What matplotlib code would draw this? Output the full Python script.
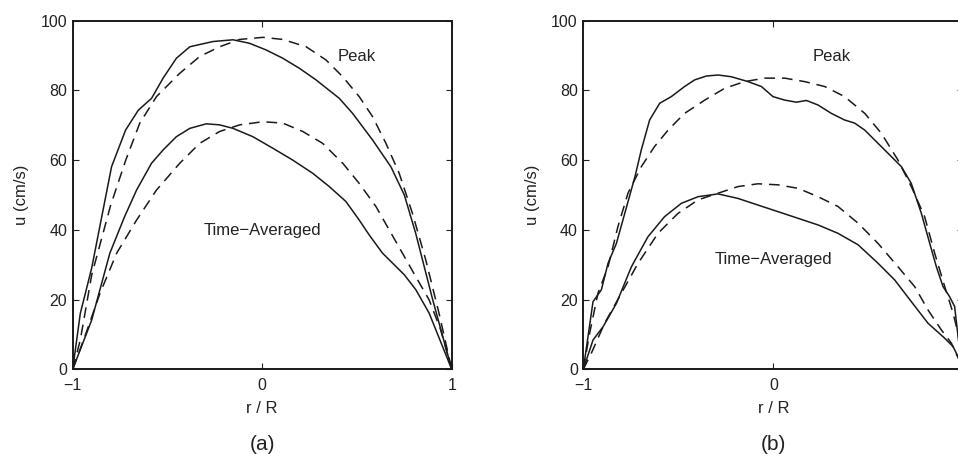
import numpy as np
import matplotlib.pyplot as plt

plt.rcParams['font.family'] = ['Liberation Sans', 'DejaVu Sans']

# panel (a)
a_peak_x = [-1, -0.96, -0.90, -0.795, -0.721, -0.654, -0.584, -0.523, -0.453, -0.382, -0.26, -0.154,
            -0.067, 0.02, 0.109, 0.197, 0.284, 0.407, 0.477, 0.582, 0.679, 0.75, 0.81, 0.90, 1]
a_peak_u = [0, 16, 29, 58.1, 68.6, 74.3, 77.7, 83.5, 89.2, 92.5, 94.0, 94.5,
            93.5, 91.6, 89.2, 86.3, 83.0, 77.7, 73.4, 65.8, 58.1, 50.0, 39.0, 19.9, 0]
a_peakfit_x = [-1, -0.96, -0.90, -0.80, -0.72, -0.646, -0.558, -0.435, -0.33, -0.225, -0.119, 0.004,
               0.109, 0.232, 0.337, 0.425, 0.512, 0.582, 0.653, 0.723, 0.793, 0.863, 0.933, 1]
a_peakfit_u = [0, 8.4, 27, 47, 60, 70.6, 78.2, 84.9, 89.7, 92.5, 94.6, 95.2,
               94.6, 92.5, 88.7, 83.9, 78.2, 72.5, 64.8, 56.2, 44.7, 31.4, 16.1, 0]
a_avg_x = [-1, -0.9, -0.804, -0.726, -0.663, -0.584, -0.523, -0.453, -0.382, -0.295, -0.225, -0.154,
           -0.049, 0.056, 0.161, 0.267, 0.354, 0.442, 0.512, 0.565, 0.635, 0.75, 0.811, 0.881, 1]
a_avg_u = [0, 14.1, 33.3, 43.8, 51.4, 59.1, 62.9, 66.7, 69.1, 70.4, 70.1, 69.1,
           66.7, 63.4, 60.0, 56.2, 52.4, 48.1, 42.8, 38.5, 33.3, 27.1, 22.8, 16.1, 0]
a_avgfit_x = [-1, -0.93, -0.856, -0.768, -0.663, -0.558, -0.435, -0.33, -0.225, -0.119, 0.004, 0.109,
              0.214, 0.319, 0.425, 0.512, 0.60, 0.67, 0.74, 0.81, 0.881, 0.942, 1]
a_avgfit_u = [0, 10.3, 21.8, 33.3, 42.8, 51.4, 59.1, 64.8, 68.2, 70.1, 71.0, 70.6,
              68.2, 64.8, 59.1, 53.3, 46.7, 40.0, 33.3, 26.6, 19.9, 11.3, 0]

# panel (b)
b_peak_x = [-1, -0.949, -0.905, -0.87, -0.826, -0.782, -0.728, -0.695, -0.651, -0.598, -0.537, -0.467,
            -0.414, -0.353, -0.291, -0.221, -0.133, -0.063, -0.002, 0.06, 0.121, 0.174, 0.235, 0.305,
            0.375, 0.428, 0.481, 0.551, 0.621, 0.674, 0.726, 0.779, 0.823, 0.858, 0.893, 0.928, 0.954,
            0.975, 1]
b_peak_u = [0, 19.4, 22.8, 30.4, 36.1, 44.7, 55.3, 62.9, 71.5, 76.3, 78.2, 81.1,
            83.0, 84.1, 84.4, 83.9, 82.5, 81.1, 78.2, 77.2, 76.6, 77.1, 75.8, 73.4,
            71.5, 70.6, 68.6, 64.8, 61.0, 58.1, 53.3, 44.7, 36.1, 29.4, 23.7, 20.8, 18.0,
            8.0, 0]
b_peakfit_x = [-1, -0.967, -0.923, -0.87, -0.818, -0.765, -0.695, -0.625, -0.554, -0.467, -0.361,
               -0.256, -0.151, -0.046, 0.06, 0.165, 0.27, 0.375, 0.481, 0.568, 0.656, 0.726, 0.796,
               0.849, 0.902, 0.946, 0.972, 1]
b_peakfit_u = [0, 10.3, 21.8, 29.4, 40.9, 50.5, 58.1, 63.9, 68.6, 73.4, 77.2,
               80.6, 82.5, 83.5, 83.5, 82.5, 81.1, 78.2, 73.4, 67.7, 60.0, 52.4, 43.8,
               33.3, 23.7, 16.1, 10.3, 0]
b_avg_x = [-1, -0.949, -0.896, -0.826, -0.747, -0.66, -0.572, -0.484, -0.396, -0.291, -0.186, -0.081,
           0.025, 0.13, 0.235, 0.34, 0.446, 0.551, 0.639, 0.726, 0.814, 0.902, 0.946, 0.972, 1]
b_avg_u = [0, 8.4, 12.2, 18.9, 29.4, 38.0, 43.8, 47.6, 49.5, 50.3, 49.0, 47.1,
           45.2, 43.3, 41.4, 39.0, 35.7, 30.4, 25.6, 19.4, 13.2, 8.9, 6.5, 3.6, 0]
b_avgfit_x = [-1, -0.958, -0.888, -0.8, -0.712, -0.607, -0.502, -0.396, -0.291, -0.186, -0.081, 0.025,
              0.13, 0.235, 0.34, 0.446, 0.551, 0.656, 0.744, 0.814, 0.884, 0.937, 1]
b_avgfit_u = [0, 4.6, 13.2, 21.8, 30.4, 39.0, 44.7, 48.6, 50.5, 52.4, 53.2, 52.9,
              51.9, 49.5, 46.7, 41.9, 36.1, 29.4, 23.7, 17.0, 11.3, 7.5, 0]

x_ticks = [-1, 0, 1]
y_ticks = [0, 20, 40, 60, 80, 100]

panels = [
    ('(a)', [0.0759, 0.1866, 0.3956, 0.768], ['\u22121', '0', '1'],
     (a_peak_x, a_peak_u), (a_peakfit_x, a_peakfit_u), (a_avg_x, a_avg_u), (a_avgfit_x, a_avgfit_u),
     (0.50, 89.7), (0.0, 39.7)),
    # right panel runs past the edge of the image, as in the original
    ('(b)', [0.6089, 0.1866, 0.3967, 0.768], ['\u22121', '0', ''],
     (b_peak_x, b_peak_u), (b_peakfit_x, b_peakfit_u), (b_avg_x, b_avg_u), (b_avgfit_x, b_avgfit_u),
     (0.305, 89.7), (0.0, 31.5)),
]

fig = plt.figure(figsize=(9.58, 4.54), dpi=100)
ink = '#1a1a1a'

for tag, rect, xlabels, peak, peakfit, avg, avgfit, peak_pos, avg_pos in panels:
    ax = fig.add_axes(rect)
    ax.plot(peak[0], peak[1], color=ink, lw=1.1)
    ax.plot(peakfit[0], peakfit[1], color=ink, lw=1.1, dashes=(7, 4.5))
    ax.plot(avg[0], avg[1], color=ink, lw=1.1)
    ax.plot(avgfit[0], avgfit[1], color=ink, lw=1.1, dashes=(7, 4.5))
    ax.text(peak_pos[0], peak_pos[1], 'Peak', ha='center', va='center', fontsize=12, color='#222222')
    ax.text(avg_pos[0], avg_pos[1], 'Time\u2212Averaged', ha='center', va='center', fontsize=12,
            color='#222222')
    ax.set_xlim(-1, 1)
    ax.set_ylim(0, 100)
    ax.set_xticks(x_ticks)
    ax.set_xticklabels(xlabels)
    ax.set_yticks(y_ticks)
    ax.tick_params(direction='in', top=True, right=True, labelsize=11.5, length=4, width=0.8,
                   colors='#222222')
    ax.tick_params(axis='x', pad=6)
    ax.tick_params(axis='y', pad=4)
    for s in ax.spines.values():
        s.set_linewidth(1.4)
        s.set_color(ink)
    ax.set_xlabel('r / R', fontsize=12, color='#222222', labelpad=6)
    ax.set_ylabel('u (cm/s)', fontsize=12, color='#222222', labelpad=8)
    fig.text(rect[0] + 0.5 * 0.3967, 1 - 445 / 454, tag, ha='center', va='center', fontsize=15,
             color='#222222')

fig.savefig('out.png', dpi=100)
